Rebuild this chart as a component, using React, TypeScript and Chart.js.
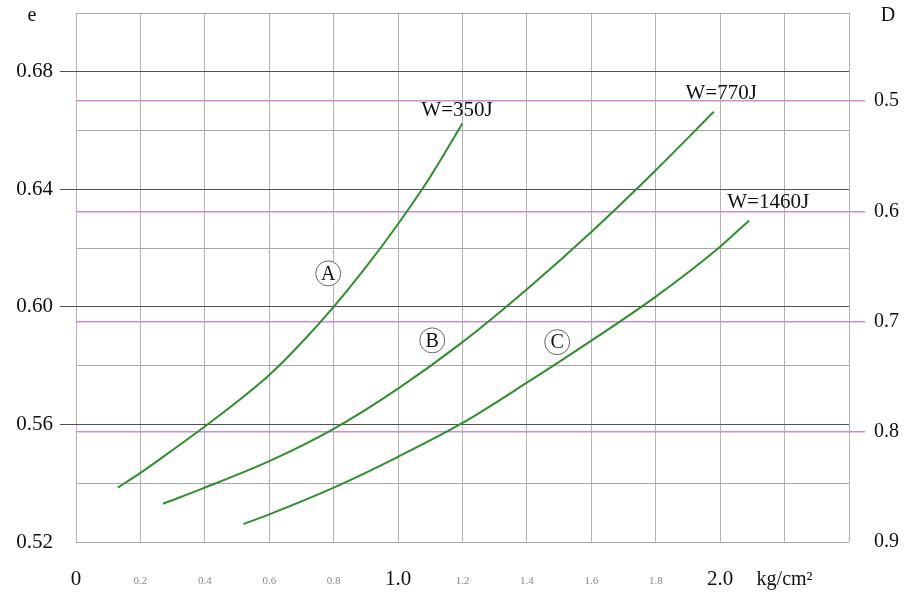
import React, { useEffect, useRef } from "react";
import { Chart, registerables } from "chart.js";

Chart.register(...registerables);

// Pressure (kg/cm²) and void ratio e for each curve
const xA = [0.13, 0.2, 0.3, 0.4, 0.5, 0.6, 0.7, 0.8, 0.9, 1.0, 1.1, 1.2];
const eA = [0.5385, 0.5435, 0.5513, 0.5593, 0.5677, 0.5768, 0.5878, 0.6, 0.6135, 0.6282, 0.6443, 0.6625];
const xB = [0.27, 0.4, 0.6, 0.8, 1.0, 1.2, 1.4, 1.6, 1.8, 1.98];
const eB = [0.533, 0.5385, 0.5475, 0.5585, 0.5722, 0.588, 0.606, 0.6255, 0.6465, 0.6664];
const xC = [0.52, 0.6, 0.8, 1.0, 1.2, 1.4, 1.6, 1.8, 2.0, 2.09];
const eC = [0.5261, 0.5294, 0.5385, 0.549, 0.5605, 0.5742, 0.5885, 0.6035, 0.6205, 0.6294];

// Axis ticks
const xTicks = [0, 0.2, 0.4, 0.6, 0.8, 1.0, 1.2, 1.4, 1.6, 1.8, 2.0, 2.2, 2.4];
const xTickLabels = ["0", "0.2", "0.4", "0.6", "0.8", "1.0", "1.2", "1.4", "1.6", "1.8", "2.0", "kg/cm\u00B2", ""];
const xBigLabels = ["0", "1.0", "2.0", "kg/cm\u00B2"];
const eTicks = [0.52, 0.54, 0.56, 0.58, 0.6, 0.62, 0.64, 0.66, 0.68, 0.7];
const eLabeled = [0.52, 0.56, 0.6, 0.64, 0.68];
const eMajor = [0.56, 0.6, 0.64, 0.68];
const dTicks = [0.5, 0.6, 0.7, 0.8, 0.9];
const dLines = [0.5, 0.6, 0.7, 0.8];

// Annotations (data coordinates)
const circleLabels = ["A", "B", "C"];
const circleX = [0.783, 1.106, 1.494];
const circleE = [0.6114, 0.5886, 0.588];
const energyLabels = ["W=350J", "W=770J", "W=1460J"];
const energyX = [1.183, 2.003, 2.149];
const energyE = [0.6668, 0.6725, 0.6355];

const SERIF = "'Liberation Serif', 'Times New Roman', serif";
const GREEN = "#2f8f2f";
const PINK = "rgb(205,140,210)";

const near = (a: number, list: number[]) => list.some((v) => Math.abs(v - a) < 1e-6);

const annotations = {
  id: "annotations",
  afterDraw(chart: any) {
    const ctx = chart.ctx;
    const xs = chart.scales.x;
    const ys = chart.scales.y;
    ctx.save();
    ctx.fillStyle = "#111";
    ctx.textAlign = "center";
    ctx.textBaseline = "middle";
    ctx.font = `20px ${SERIF}`;
    ctx.fillText("e", 32, 16);
    ctx.fillText("D", 888, 16);
    ctx.font = `21px ${SERIF}`;
    energyLabels.forEach((t, i) => {
      ctx.fillText(t, xs.getPixelForValue(energyX[i]), ys.getPixelForValue(energyE[i]));
    });
    circleLabels.forEach((t, i) => {
      const cx = xs.getPixelForValue(circleX[i]);
      const cy = ys.getPixelForValue(circleE[i]);
      ctx.beginPath();
      ctx.arc(cx, cy, 12.5, 0, Math.PI * 2);
      ctx.strokeStyle = "#666";
      ctx.lineWidth = 1;
      ctx.fillStyle = "#fff";
      ctx.fill();
      ctx.stroke();
      ctx.fillStyle = "#111";
      ctx.font = `20px ${SERIF}`;
      ctx.fillText(t, cx, cy + 1);
    });
    ctx.restore();
  },
};

export default function App() {
  const ref = useRef<HTMLCanvasElement | null>(null);
  useEffect(() => {
    if (!ref.current) return;
    const mk = (xs: number[], es: number[]) => xs.map((x, i) => ({ x, y: es[i] }));
    const ds = (data: any) => ({
      data,
      borderColor: GREEN,
      borderWidth: 2,
      pointRadius: 0,
      fill: false,
      cubicInterpolationMode: "monotone",
      yAxisID: "y",
    });
    const chart = new Chart(ref.current, {
      type: "line",
      data: { datasets: [ds(mk(xA, eA)), ds(mk(xB, eB)), ds(mk(xC, eC))] as any },
      options: {
        animation: false,
        responsive: false,
        layout: { padding: { top: 13, left: 0, right: 0, bottom: 0 } },
        plugins: { legend: { display: false }, tooltip: { enabled: false } },
        scales: {
          x: {
            type: "linear",
            min: 0,
            max: 2.4,
            afterBuildTicks: (s: any) => {
              s.ticks = xTicks.map((v) => ({ value: v }));
            },
            afterFit: (s: any) => {
              s.height = 52;
              s.paddingLeft = 0;
              s.paddingRight = 0;
            },
            border: { display: false },
            grid: { color: "#b4b4b4", lineWidth: 1, drawTicks: false },
            ticks: {
              autoSkip: false,
              maxRotation: 0,
              padding: 25,
              crossAlign: "near",
              callback: (_v: any, i: number) => xTickLabels[i],
              font: (c: any) => {
                const lbl = xTickLabels[c.index];
                if (lbl === "kg/cm\u00B2") return { family: SERIF, size: 20, lineHeight: 1.3 };
                return xBigLabels.includes(lbl)
                  ? { family: SERIF, size: 21, lineHeight: 1.2 }
                  : { family: SERIF, size: 11, lineHeight: 2.6 };
              },
              color: (c: any) => (xBigLabels.includes(xTickLabels[c.index]) ? "#111" : "#888"),
            },
          },
          y: {
            type: "linear",
            position: "left",
            min: 0.52,
            max: 0.7,
            afterBuildTicks: (s: any) => {
              s.ticks = eTicks.map((v) => ({ value: v }));
            },
            afterFit: (s: any) => {
              s.width = 76;
              s.paddingTop = 0;
              s.paddingBottom = 0;
            },
            border: { display: false },
            grid: {
              color: (c: any) => (c.tick && near(c.tick.value, eMajor) ? "#505050" : "#a8a8a8"),
              tickColor: (c: any) => (c.tick && near(c.tick.value, eMajor) ? "#505050" : "rgba(0,0,0,0)"),
              tickLength: 16,
              lineWidth: 1,
            },
            ticks: {
              padding: 7,
              color: "#111",
              font: { family: SERIF, size: 21 },
              callback: (v: any) => {
                const n = Number(v);
                return near(n, eLabeled) ? n.toFixed(2) : "";
              },
            },
          },
          d: {
            type: "linear",
            position: "right",
            reverse: true,
            min: 0.42,
            max: 0.9,
            afterBuildTicks: (s: any) => {
              s.ticks = dTicks.map((v) => ({ value: v }));
            },
            afterFit: (s: any) => {
              s.width = 58;
              s.paddingTop = 0;
              s.paddingBottom = 0;
            },
            border: { display: false },
            grid: {
              color: (c: any) => (c.tick && near(c.tick.value, dLines) ? PINK : "rgba(0,0,0,0)"),
              tickColor: (c: any) => (c.tick && near(c.tick.value, dLines) ? PINK : "rgba(0,0,0,0)"),
              tickLength: 16,
              lineWidth: 1.5,
            },
            ticks: {
              padding: 9,
              color: "#111",
              font: { family: SERIF, size: 20 },
              callback: (v: any) => Number(v).toFixed(1),
            },
          },
        },
      } as any,
      plugins: [annotations],
    });
    return () => chart.destroy();
  }, []);
  return (
    <div style={{ position: "absolute", left: 0, top: 0, width: 907, height: 594, background: "#fff" }}>
      <canvas ref={ref} width={907} height={594} style={{ display: "block" }} />
    </div>
  );
}
